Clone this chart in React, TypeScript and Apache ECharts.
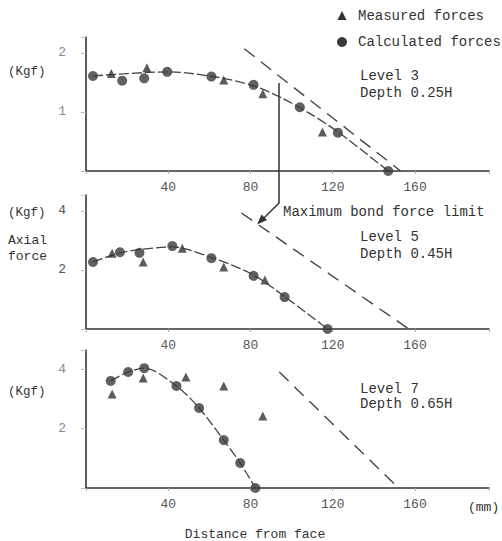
import React, { useEffect, useRef } from "react";
import * as echarts from "echarts";

// Distance from face (mm), axial force (Kgf)
const xTickLabels = [40, 80, 120, 160];
const level3YLabels = [1, 2];
const level5YLabels = [2, 4];
const level7YLabels = [2, 4];

const level3Measured = [[12.3, 1.65], [29.6, 1.75], [67, 1.54], [86, 1.31], [115, 0.66]];
const level3Calculated = [[3.4, 1.61], [17.6, 1.53], [28.3, 1.57], [39.5, 1.68], [61, 1.6], [81.5, 1.46], [104, 1.08], [122.5, 0.65], [147, 0]];
const level3Fit = [[3.4, 1.61], [20, 1.65], [40, 1.68], [60, 1.61], [80, 1.46], [95, 1.24], [110, 0.95], [123, 0.65], [147, 0]];
const level3Limit = [[77, 2.07], [153, 0]];

const level5Measured = [[12.7, 2.57], [27.8, 2.27], [46.8, 2.74], [67, 2.1], [87, 1.66]];
const level5Calculated = [[3.4, 2.27], [16.5, 2.6], [26, 2.58], [42, 2.81], [61, 2.4], [81.5, 1.8], [96.6, 1.08], [117.5, 0]];
const level5Fit = [[3.4, 2.27], [16, 2.57], [26, 2.69], [42, 2.78], [61, 2.42], [81, 1.85], [96.6, 1.1], [117.5, 0]];
const level5Limit = [[75.6, 3.93], [157, 0]];

const level7Measured = [[12.7, 3.16], [27.8, 3.7], [48.6, 3.73], [67, 3.43], [86, 2.42]];
const level7Calculated = [[12, 3.6], [20.5, 3.9], [28.3, 4.03], [44, 3.43], [55, 2.69], [67, 1.61], [75, 0.84], [82.4, 0]];
const level7Fit = [[12, 3.6], [20.5, 3.9], [28.3, 4.03], [44, 3.43], [55, 2.69], [67, 1.61], [75, 0.84], [82.4, 0]];
const level7Limit = [[94, 3.9], [152, 0]];

const panelLabels = [
  ["Level 3", "Depth 0.25H"],
  ["Level 5", "Depth 0.45H"],
  ["Level 7", "Depth 0.65H"],
];

const MONO = '"Liberation Mono", "DejaVu Sans Mono", monospace';
const INK = "#333";

export default function App() {
  const ref = useRef<HTMLDivElement>(null);
  useEffect(() => {
    if (!ref.current) return;
    const chart = echarts.init(ref.current, null, { renderer: "svg" });

    const grids = [
      { left: 86, width: 403, top: 37, height: 134 },
      { left: 86, width: 403, top: 195, height: 134 },
      { left: 86, width: 403, top: 350, height: 138 },
    ];
    const yMax = [2.27, 4.54, 4.64];
    const yInt = [1, 2, 2];
    const yLabs = [level3YLabels, level5YLabels, level7YLabels];

    const xAxes = grids.map((_, i) => ({
      type: "value",
      gridIndex: i,
      min: 0,
      max: 196,
      interval: 40,
      axisLine: { lineStyle: { color: INK, width: 1.6 } },
      axisTick: { show: true, length: 3, lineStyle: { color: "#aaa" } },
      splitLine: { show: false },
      axisLabel: {
        margin: 10,
        fontFamily: MONO,
        fontSize: 13,
        color: "#555",
        formatter: (v: number) => (xTickLabels.includes(v) ? String(v) : ""),
      },
    }));
    const yAxes = grids.map((_, i) => ({
      type: "value",
      gridIndex: i,
      min: 0,
      max: yMax[i],
      interval: yInt[i],
      axisLine: { show: true, lineStyle: { color: INK, width: 1.6 } },
      axisTick: { show: true, length: 5, lineStyle: { color: "#bbb" } },
      splitLine: { show: false },
      axisLabel: {
        margin: 20,
        fontFamily: MONO,
        fontSize: 13,
        color: i === 1 ? "#555" : "#888",
        formatter: (v: number) => (yLabs[i].includes(v) ? String(v) : ""),
      },
    }));

    const panels = [
      [level3Measured, level3Calculated, level3Fit, level3Limit],
      [level5Measured, level5Calculated, level5Fit, level5Limit],
      [level7Measured, level7Calculated, level7Fit, level7Limit],
    ];
    const series: any[] = [];
    panels.forEach(([meas, calc, fit, lim], i) => {
      series.push({
        type: "line",
        xAxisIndex: i,
        yAxisIndex: i,
        data: lim,
        symbol: "none",
        lineStyle: { color: "#444", width: 1.4, type: [13, 8] },
        z: 1,
      });
      series.push({
        type: "line",
        xAxisIndex: i,
        yAxisIndex: i,
        data: fit,
        symbol: "none",
        smooth: 0.3,
        lineStyle: { color: "#444", width: 1.3, type: [10, 3] },
        z: 2,
      });
      series.push({
        type: "scatter",
        xAxisIndex: i,
        yAxisIndex: i,
        data: calc,
        symbol: "circle",
        symbolSize: 10,
        itemStyle: { color: "#3a3a3a" },
        z: 3,
      });
      series.push({
        type: "scatter",
        xAxisIndex: i,
        yAxisIndex: i,
        data: meas,
        symbol: "triangle",
        symbolSize: 9,
        itemStyle: { color: "#333" },
        z: 4,
      });
    });

    const txt = (x: number, y: number, s: string, size = 14, align = "left", color = INK) => ({
      type: "text",
      x,
      y,
      style: { text: s, fontFamily: MONO, fontSize: size, fill: color, textAlign: align, textVerticalAlign: "middle" },
    });

    const levelY = [[76, 93], [237, 254], [389, 404]];
    const graphic: any[] = [
      // legend
      { type: "polygon", shape: { points: [[342, 11], [337.5, 20], [346.5, 20]] }, style: { fill: "#333" } },
      txt(358, 16, "Measured forces"),
      { type: "circle", shape: { cx: 342, cy: 42, r: 5 }, style: { fill: "#3a3a3a" } },
      txt(358, 42, "Calculated forces"),
      // axis captions
      txt(8, 72, "(Kgf)", 12.5),
      txt(8, 213, "(Kgf)", 12.5),
      txt(8, 240, "Axial", 13),
      txt(8, 256, "force", 13),
      txt(8, 392, "(Kgf)", 12.5),
      txt(468, 507, "(mm)", 13),
      txt(255, 534, "Distance from face", 13, "center"),
      // annotation
      txt(283, 212, "Maximum bond force limit"),
      { type: "polyline", shape: { points: [[279, 83], [279, 203], [263, 219]] }, style: { stroke: "#333", lineWidth: 1.5, fill: null } },
      { type: "polygon", shape: { points: [[257, 224.5], [261.5, 214.5], [267, 220]] }, style: { fill: "#333" } },
    ];
    panelLabels.forEach((pl, i) => {
      graphic.push(txt(360, levelY[i][0], pl[0]));
      graphic.push(txt(360, levelY[i][1], pl[1]));
    });

    chart.setOption({
      animation: false,
      backgroundColor: "#fff",
      grid: grids,
      xAxis: xAxes,
      yAxis: yAxes,
      series,
      graphic,
    });
    return () => chart.dispose();
  }, []);
  return <div ref={ref} style={{ position: "fixed", left: 0, top: 0, width: 502, height: 541 }} />;
}
